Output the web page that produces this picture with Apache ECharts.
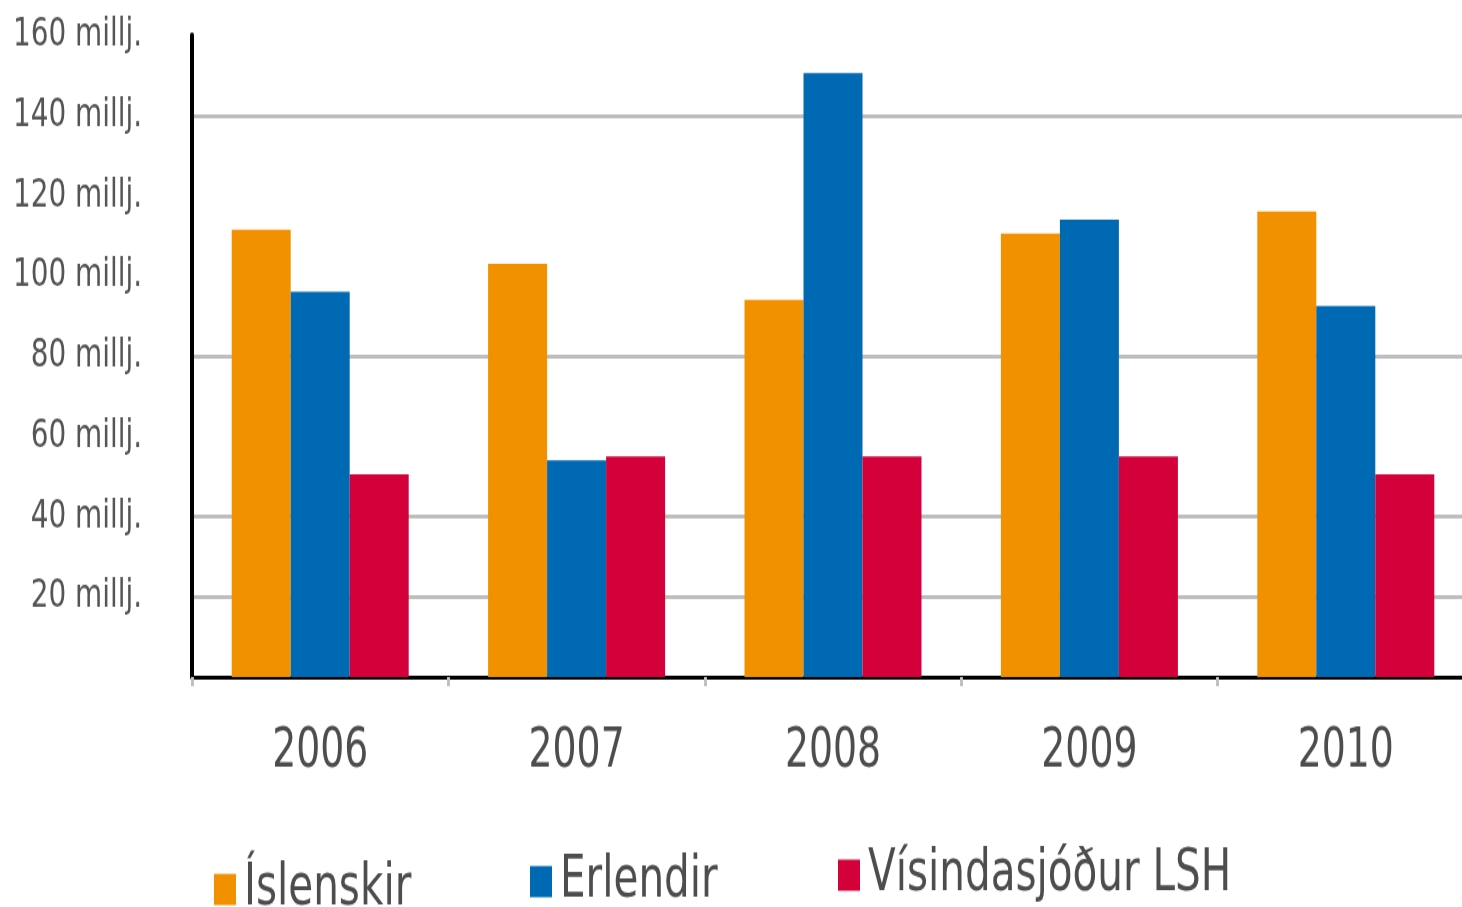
<!DOCTYPE html>
<html>
<head>
<meta charset="utf-8">
<script src="https://cdn.jsdelivr.net/npm/echarts@6/dist/echarts.min.js"></script>
<style>
  html, body { margin: 0; padding: 0; background: #fff; }
  body { width: 1462px; height: 907px; }
  /* the source picture is stretched vertically, so the chart is drawn
     698px tall and scaled up to 907px */
  #chart { width: 1462px; height: 698px; transform: scaleY(1.2994); transform-origin: 0 0; }
</style>
</head>
<body>
<div id="chart"></div>
<script>
  var years = ['2006', '2007', '2008', '2009', '2010']
  var islenskir = [111.5, 103, 94, 110.5, 116]
  var erlendir = [96, 54, 150.5, 114, 92.5]
  var visindasjodur = [50.5, 55, 55, 55, 50.5]
  var seriesNames = ['Íslenskir', 'Erlendir', 'Vísindasjóður LSH']
  // gridlines only drawn at these values
  var gridValues = [20, 40, 80, 140]

  var font = '"DejaVu Sans Condensed", "DejaVu Sans", sans-serif'
  var yTicks = [0, 20, 40, 60, 80, 100, 120, 140, 160]
  var splitColors = yTicks.map(function (v) {
    return gridValues.indexOf(v) >= 0 ? '#bdbdbd' : 'rgba(0,0,0,0)'
  })

  function legendFor(name, left, top) {
    return {
      data: [name],
      left: left,
      top: top,
      icon: 'rect',
      itemWidth: 22,
      itemHeight: 24,
      padding: 0,
      selectedMode: false,
      textStyle: {
        fontFamily: font,
        fontSize: 45,
        color: '#4d4d4d',
        padding: [0, 0, 0, 3]
      }
    }
  }

  var chart = echarts.init(document.getElementById('chart'))
  chart.setOption({
    backgroundColor: '#fff',
    animation: false,
    color: ['#F29100', '#0069B4', '#D4003A'],
    legend: [
      legendFor(seriesNames[0], 214, 662),
      legendFor(seriesNames[1], 530, 656),
      legendFor(seriesNames[2], 838, 651)
    ],
    grid: {
      left: 192,
      right: -12,
      top: 27,
      bottom: 177,
      containLabel: false,
      outerBoundsMode: 'none'
    },
    xAxis: {
      type: 'category',
      data: years,
      axisLine: {
        lineStyle: { color: '#000', width: 3 }
      },
      axisTick: {
        show: true,
        length: 7,
        lineStyle: { color: '#c0c0c0', width: 3 }
      },
      axisLabel: {
        margin: 37,
        fontFamily: font,
        fontSize: 42,
        color: '#4d4d4d'
      }
    },
    yAxis: {
      type: 'value',
      min: 0,
      max: 160,
      interval: 20,
      axisLine: {
        show: true,
        lineStyle: { color: '#000', width: 4 }
      },
      axisTick: { show: false },
      axisLabel: {
        margin: 50,
        fontFamily: font,
        fontSize: 31,
        color: '#555',
        formatter: function (v) {
          return v === 0 ? '' : v + ' millj.'
        }
      },
      splitLine: {
        show: true,
        lineStyle: { color: splitColors, width: 3 }
      }
    },
    series: [
      {
        name: seriesNames[0],
        type: 'bar',
        barWidth: 59,
        barGap: '0%',
        data: islenskir
      },
      {
        name: seriesNames[1],
        type: 'bar',
        barWidth: 59,
        barGap: '0%',
        data: erlendir
      },
      {
        name: seriesNames[2],
        type: 'bar',
        barWidth: 59,
        barGap: '0%',
        data: visindasjodur
      }
    ]
  })
</script>
</body>
</html>
